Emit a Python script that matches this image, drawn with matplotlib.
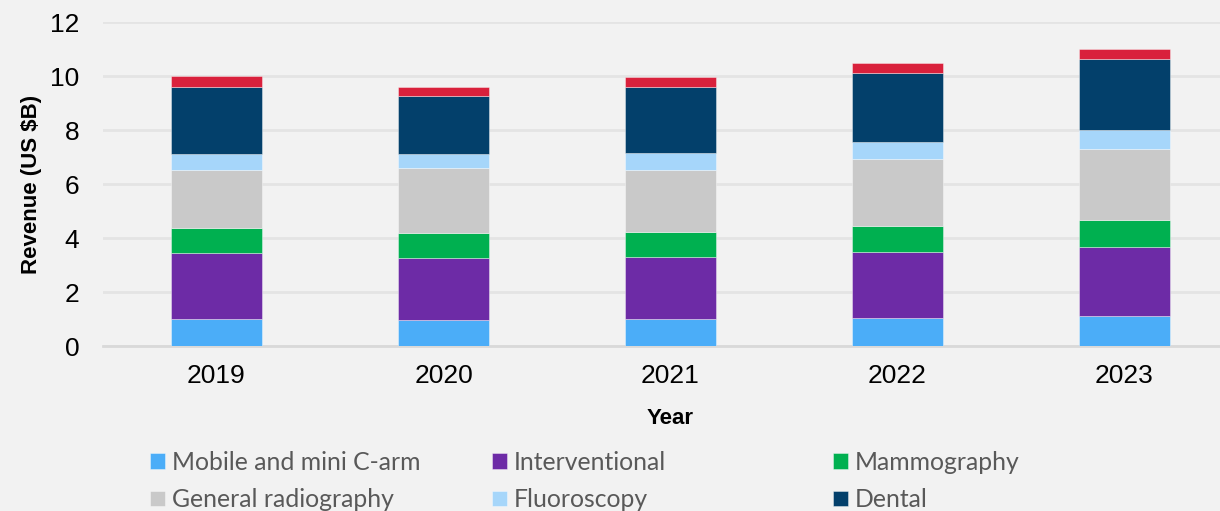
import matplotlib
matplotlib.use("Agg")
import matplotlib.pyplot as plt
import numpy as np

# Data (US $B)
years = ["2019", "2020", "2021", "2022", "2023"]
series_names = ["Mobile and mini C-arm", "Interventional", "Mammography",
                "General radiography", "Fluoroscopy", "Dental", "Other"]
mobile = [0.99, 0.95, 0.99, 1.05, 1.11]
interventional = [2.44, 2.32, 2.30, 2.42, 2.56]
mammography = [0.95, 0.90, 0.93, 0.96, 1.01]
general_radiography = [2.14, 2.42, 2.30, 2.48, 2.62]
fluoroscopy = [0.59, 0.51, 0.61, 0.63, 0.69]
dental = [2.49, 2.17, 2.48, 2.56, 2.63]
other = [0.40, 0.32, 0.37, 0.37, 0.38]

colors = ["#4BADF8", "#6D2BA6", "#00B050", "#C9C9C9", "#A6D6FA", "#03406B", "#D9213C"]
bg = "#F2F2F2"

fig = plt.figure(figsize=(12.2, 5.11), dpi=100, facecolor=bg)
ax = fig.add_axes([103 / 1220, 165 / 511, 1135 / 1220, 324 / 511])
ax.set_facecolor(bg)

x = np.arange(len(years))
bottom = np.zeros(len(years))
handles = []
for name, vals, col in zip(series_names,
                           [mobile, interventional, mammography, general_radiography,
                            fluoroscopy, dental, other], colors):
    b = ax.bar(x, vals, width=0.4, bottom=bottom, color=col, label=name,
               edgecolor=(1, 1, 1, 0.45), linewidth=0.6, zorder=3)
    handles.append(b)
    bottom += np.array(vals)

ax.set_xlim(-0.5, 4.5)
ax.set_ylim(0, 12)
ax.set_yticks(range(0, 13, 2))
ax.set_xticks(x)
ax.set_xticklabels(years)
ax.yaxis.grid(True, color="#E4E4E4", linewidth=2, zorder=0)
ax.set_axisbelow(True)
for s in ["top", "right", "left"]:
    ax.spines[s].set_visible(False)
ax.spines["bottom"].set_color("#D9D9D9")
ax.spines["bottom"].set_linewidth(2)
ax.tick_params(axis="both", length=0, labelsize=19, colors="#000000")
ax.tick_params(axis="y", pad=17)
ax.tick_params(axis="x", pad=13)
for t in ax.get_xticklabels() + ax.get_yticklabels():
    t.set_family("Liberation Sans")

ax.set_ylabel("Revenue (US $B)", fontsize=16, fontweight="bold",
              family="Liberation Sans", labelpad=6)
ax.set_xlabel("Year", fontsize=16, fontweight="bold",
              family="Liberation Sans", labelpad=14)

# legend laid out as three columns, filled row by row
# (the red series' entry is cropped off in the source image, so only six show)
columns = [[0, 3], [1, 4], [2, 5]]
col_x = [150, 492, 833]
for idx, cx in zip(columns, col_x):
    leg = fig.legend([handles[i] for i in idx], [series_names[i] for i in idx],
                     loc="upper left", bbox_to_anchor=(cx / 1220, 1 - 451 / 511),
                     ncol=1, frameon=False, borderpad=0, borderaxespad=0,
                     handlelength=0.6, handleheight=0.6, handletextpad=0.3,
                     labelspacing=0.58, prop={"family": "Lato", "size": 17.8})
    for t in leg.get_texts():
        t.set_color("#595959")

fig.savefig("out.png", dpi=100, facecolor=bg)
